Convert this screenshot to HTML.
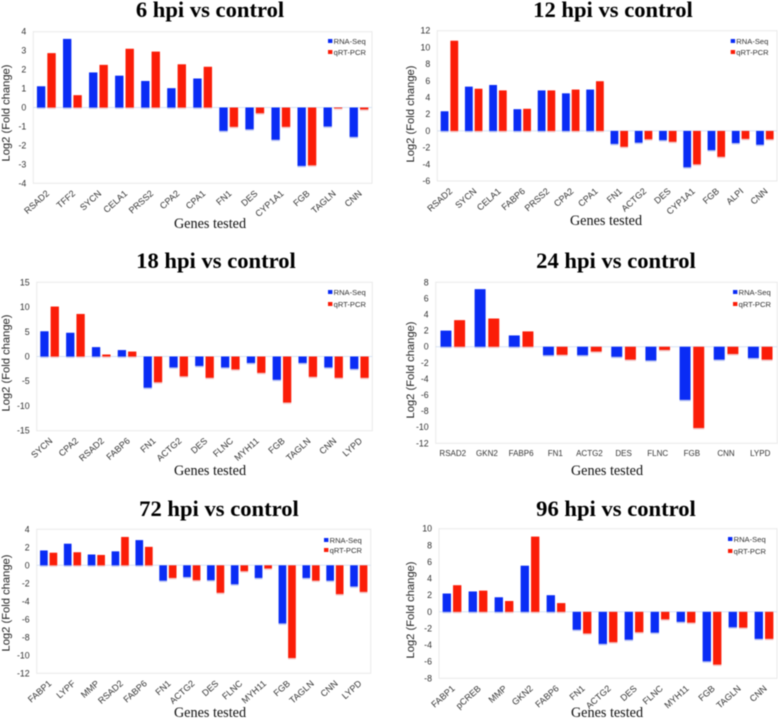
<!DOCTYPE html>
<html lang="en">
<head>
<meta charset="utf-8">
<title>RNA-Seq vs qRT-PCR validation</title>
<style>
html,body{margin:0;padding:0;background:#fff;width:778px;height:719px;overflow:hidden}
svg{display:block;filter:blur(0.45px)}
.title{font:bold 22.6px "Liberation Serif",serif;fill:#000;text-anchor:middle}
.xtitle{font:14.2px "Liberation Serif",serif;fill:#111;text-anchor:middle}
.ytitle{font:11.2px "Liberation Sans",sans-serif;fill:#222;text-anchor:middle}
.tick{font:8.8px "Liberation Sans",sans-serif;fill:#333}
.cat{font:8px "Liberation Sans",sans-serif;fill:#333}
.catrot{font:9px "Liberation Sans",sans-serif;fill:#333}
.leg{font:7.6px "Liberation Sans",sans-serif;fill:#333}
</style>
</head>
<body>
<svg id="figure" xmlns="http://www.w3.org/2000/svg" width="778" height="719" viewBox="0 0 778 719"></svg>
<script>
// ---- Chart data ----
const titles6 = "6 hpi vs control";
const cats6 = ["RSAD2","TFF2","SYCN","CELA1","PRSS2","CPA2","CPA1","FN1","DES","CYP1A1","FGB","TAGLN","CNN"];
const rna6 = [1.12,3.62,1.85,1.68,1.4,1.02,1.53,-1.23,-1.15,-1.7,-3.08,-1.0,-1.55];
const qpcr6 = [2.87,0.65,2.25,3.1,2.95,2.28,2.15,-1.02,-0.3,-1.02,-3.05,-0.05,-0.1];
const ticks6 = [4,3,2,1,0,-1,-2,-3,-4];

const titles12 = "12 hpi vs control";
const cats12 = ["RSAD2","SYCN","CELA1","FABP6","PRSS2","CPA2","CPA1","FN1","ACTG2","DES","CYP1A1","FGB","ALPI","CNN"];
const rna12 = [2.35,5.3,5.5,2.6,4.85,4.5,4.95,-1.55,-1.4,-1.1,-4.35,-2.3,-1.45,-1.65];
const qpcr12 = [10.8,5.05,4.85,2.65,4.85,4.95,5.95,-1.9,-1.0,-1.3,-4.0,-3.1,-0.95,-1.0];
const ticks12 = [12,10,8,6,4,2,0,-2,-4,-6];

const titles18 = "18 hpi vs control";
const cats18 = ["SYCN","CPA2","RSAD2","FABP6","FN1","ACTG2","DES","FLNC","MYH11","FGB","TAGLN","CNN","LYPD"];
const rna18 = [5.1,4.8,1.9,1.3,-6.3,-2.2,-1.9,-2.2,-1.3,-4.7,-1.3,-2.2,-2.5];
const qpcr18 = [10.1,8.6,0.4,1.0,-5.2,-4.0,-4.3,-2.6,-3.3,-9.3,-4.1,-4.3,-4.3];
const ticks18 = [15,10,5,0,-5,-10,-15];

const titles24 = "24 hpi vs control";
const cats24 = ["RSAD2","GKN2","FABP6","FN1","ACTG2","DES","FLNC","FGB","CNN","LYPD"];
const rna24 = [2.0,7.15,1.4,-1.05,-1.05,-1.25,-1.7,-6.6,-1.6,-1.4];
const qpcr24 = [3.3,3.5,1.9,-1.0,-0.6,-1.6,-0.4,-10.1,-0.9,-1.6];
const ticks24 = [8,6,4,2,0,-2,-4,-6,-8,-10,-12];

const titles72 = "72 hpi vs control";
const cats72 = ["FABP1","LYPF","MMP","RSAD2","FABP6","FN1","ACTG2","DES","FLNC","MYH11","FGB","TAGLN","CNN","LYPD"];
const rna72 = [1.65,2.4,1.2,1.55,2.8,-1.7,-1.3,-1.65,-2.1,-1.4,-6.45,-1.4,-1.7,-2.35];
const qpcr72 = [1.4,1.45,1.15,3.15,2.05,-1.4,-1.65,-3.05,-0.65,-0.35,-10.3,-1.7,-3.2,-2.95];
const ticks72 = [4,2,0,-2,-4,-6,-8,-10,-12];

const titles96 = "96 hpi vs control";
const cats96 = ["FABP1","pCREB","MMP","GKN2","FABP6","FN1","ACTG2","DES","FLNC","MYH11","FGB","TAGLN","CNN"];
const rna96 = [2.2,2.45,1.75,5.55,2.0,-2.15,-3.85,-3.35,-2.5,-1.2,-5.95,-1.85,-3.25];
const qpcr96 = [3.2,2.55,1.3,9.05,1.05,-2.6,-3.65,-2.45,-0.9,-1.3,-6.35,-1.9,-3.25];
const ticks96 = [10,8,6,4,2,0,-2,-4,-6,-8];

// ---- Panel layout (geometry only) ----
const panels = [
 {id:"6hpi", title:titles6, cats:cats6, rna:rna6, qpcr:qpcr6, ticks:ticks6, l:33.3,r:372,t:31.7,b:183.3, titleX:210,titleY:17, xtX:210,xtY:228, ytX:9.5,ytY:113, legX:328,legY:[41,52], rot:true},
 {id:"12hpi", title:titles12, cats:cats12, rna:rna12, qpcr:qpcr12, ticks:ticks12, l:437.3,r:777,t:30.7,b:181, titleX:613,titleY:17, xtX:606,xtY:225, ytX:414,ytY:114, legX:730.7,legY:[41,52], rot:true},
 {id:"18hpi", title:titles18, cats:cats18, rna:rna18, qpcr:qpcr18, ticks:ticks18, l:36.7,r:372.3,t:282.3,b:430.7, titleX:216,titleY:268, xtX:210,xtY:475, ytX:9.5,ytY:363, legX:328,legY:[292,304], rot:true},
 {id:"24hpi", title:titles24, cats:cats24, rna:rna24, qpcr:qpcr24, ticks:ticks24, l:435.7,r:777.3,t:282.3,b:443.3, titleX:616,titleY:268, xtX:607,xtY:475, ytX:414,ytY:370, legX:733,legY:[292,304], rot:false},
 {id:"72hpi", title:titles72, cats:cats72, rna:rna72, qpcr:qpcr72, ticks:ticks72, l:36.7,r:370.7,t:529.3,b:673.3, titleX:219,titleY:516, xtX:210,xtY:717, ytX:9.5,ytY:603, legX:324,legY:[540,550], rot:true},
 {id:"96hpi", title:titles96, cats:cats96, rna:rna96, qpcr:qpcr96, ticks:ticks96, l:439,r:777,t:528.7,b:678.3, titleX:616,titleY:516, xtX:607,xtY:717, ytX:414,ytY:610, legX:728,legY:[539,551], rot:true}
];

const NS = "http://www.w3.org/2000/svg";
const BLUE = "#0a2cf5";
const RED = "#fb1d08";
const figure = document.getElementById("figure");

function make(parent, tag, attrs, text) {
  const el = document.createElementNS(NS, tag);
  for (const k in attrs) el.setAttribute(k, attrs[k]);
  if (text !== undefined) el.textContent = text;
  parent.appendChild(el);
  return el;
}

function drawBar(g, x, w, y0, yv, color, shadow, name) {
  const top = Math.min(y0, yv);
  const h = Math.abs(yv - y0);
  const sh = make(g, "rect", {x:x, y:top + 1.4, width:w, height:h, fill:shadow});
  
  
  const bar = make(g, "rect", {x:x, y:top, width:w, height:h, fill:color});
  
  
}

panels.forEach(function (p) {
  const g = make(figure, "g", {});
  
  

  const yMax = Math.max.apply(null, p.ticks);
  const yMin = Math.min.apply(null, p.ticks);
  const yScale = function (v) { return p.t + (yMax - v) / (yMax - yMin) * (p.b - p.t); };
  const band = (p.r - p.l) / p.cats.length;
  const xCenter = function (i) { return p.l + band * (i + 0.5); };
  const barW = band * 0.32;
  const gap = band * 0.08;

  const title = make(g, "text", {x:p.titleX, y:p.titleY, "class":"title"}, p.title);
  
  

  const frame = make(g, "rect", {x:p.l, y:p.t, width:p.r - p.l, height:p.b - p.t, fill:"#fff", stroke:"#e9e9e9", "stroke-width":1});
  
  

  const zero = make(g, "line", {x1:p.l, x2:p.r, y1:yScale(0), y2:yScale(0), stroke:"#d6e2f4", "stroke-width":1});
  
  

  p.ticks.forEach(function (v) {
    const t = make(g, "text", {x:p.l - 7, y:yScale(v) + 3, "text-anchor":"end", "class":"tick"}, String(v));
    
    
  });

  p.cats.forEach(function (c, i) {
    const cx = xCenter(i);
    drawBar(g, cx - gap / 2 - barW, barW, yScale(0), yScale(p.rna[i]), BLUE, "#b9c3f3", 'bar-rna-seq-' + c);
    drawBar(g, cx + gap / 2, barW, yScale(0), yScale(p.qpcr[i]), RED, "#f3c6c6", 'bar-qrt-pcr-' + c);
    let label;
    if (p.rot) {
      const ax = cx + 3.5;
      const ay = p.b + 11;
      label = make(g, "text", {x:ax, y:ay, "text-anchor":"end", "class":"catrot", transform:"rotate(-42 " + ax + " " + ay + ")"}, c);
    } else {
      label = make(g, "text", {x:cx, y:p.b + 12.7, "text-anchor":"middle", "class":"cat"}, c);
    }
    
    
  });

  const xt = make(g, "text", {x:p.xtX, y:p.xtY, "class":"xtitle"}, "Genes tested");
  
  

  const yt = make(g, "text", {x:p.ytX, y:p.ytY, "class":"ytitle", transform:"rotate(-90 " + p.ytX + " " + p.ytY + ")"}, "Log2 (Fold change)");
  
  

  const legendNames = ["RNA-Seq", "qRT-PCR"];
  const legendColors = [BLUE, RED];
  legendNames.forEach(function (n, k) {
    const sw = make(g, "rect", {x:p.legX, y:p.legY[k] - 2, width:4.4, height:4, fill:legendColors[k]});
    
    
    const tx = make(g, "text", {x:p.legX + 5.6, y:p.legY[k] + 2.8, "class":"leg"}, n);
    
    
  });
});
</script>
</body>
</html>
